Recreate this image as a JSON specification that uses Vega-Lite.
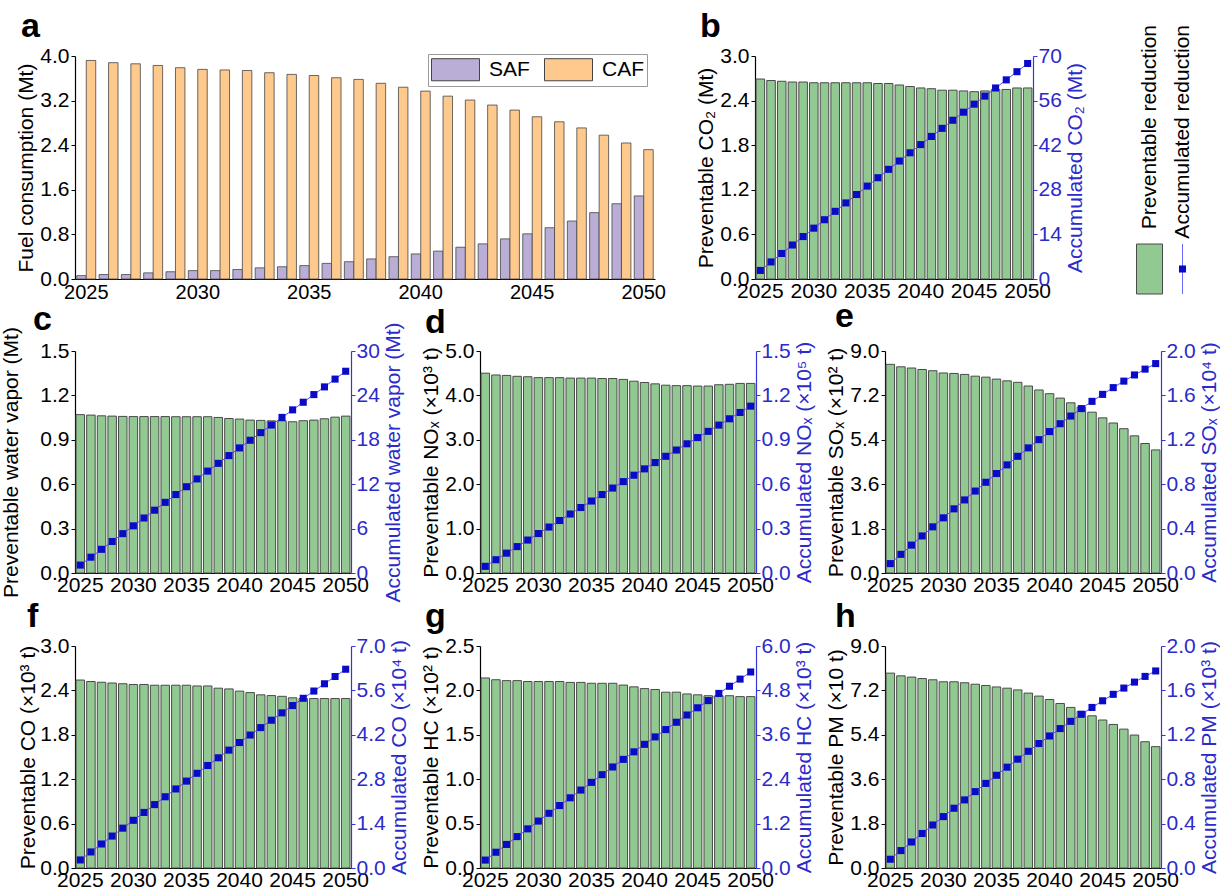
{
"$schema": "https://vega.github.io/schema/vega-lite/v6.json",
"padding": {"left": 0, "top": 10, "right": 0, "bottom": 0},
"bounds": "flush",
"spacing": 295,
"config": {
  "font": "Liberation Sans",
  "view": {"stroke": null},
  "axis": {"grid": false, "domainColor": "#000000", "domainWidth": 1.2, "tickColor": "#000000", "labelColor": "#000000", "titleColor": "#000000", "labelFontSize": 21, "titleFontSize": 21, "titleFontWeight": "normal", "tickSize": 4, "labelPadding": 2, "labelOverlap": false},
  "axisBottom": {"ticks": false, "labelPadding": 1, "labelAngle": 0, "labelFlush": false},
  "axisLeft": {"titlePadding": 3},
  "axisRight": {"domainColor": "#3434e0", "tickColor": "#3434e0", "labelColor": "#2b2bcc", "titleColor": "#2b2bcc", "titleAngle": 270, "titleBaseline": "top", "labelPadding": 1, "titlePadding": 3},
  "title": {"fontSize": 34, "fontWeight": "bold", "anchor": "start", "frame": "group", "color": "#000000", "offset": 6}
},
"datasets": {
  "fuel": [
    {"year":2025,"SAF":0.06,"CAF":3.92},{"year":2026,"SAF":0.08,"CAF":3.88},{"year":2027,"SAF":0.08,"CAF":3.86},{"year":2028,"SAF":0.11,"CAF":3.83},{"year":2029,"SAF":0.13,"CAF":3.79},{"year":2030,"SAF":0.15,"CAF":3.76},{"year":2031,"SAF":0.15,"CAF":3.75},{"year":2032,"SAF":0.17,"CAF":3.74},{"year":2033,"SAF":0.20,"CAF":3.70},{"year":2034,"SAF":0.22,"CAF":3.67},{"year":2035,"SAF":0.24,"CAF":3.65},{"year":2036,"SAF":0.28,"CAF":3.61},{"year":2037,"SAF":0.31,"CAF":3.58},{"year":2038,"SAF":0.36,"CAF":3.51},{"year":2039,"SAF":0.40,"CAF":3.44},{"year":2040,"SAF":0.45,"CAF":3.37},{"year":2041,"SAF":0.50,"CAF":3.28},{"year":2042,"SAF":0.57,"CAF":3.21},{"year":2043,"SAF":0.63,"CAF":3.12},{"year":2044,"SAF":0.72,"CAF":3.03},{"year":2045,"SAF":0.81,"CAF":2.91},{"year":2046,"SAF":0.92,"CAF":2.82},{"year":2047,"SAF":1.04,"CAF":2.71},{"year":2048,"SAF":1.19,"CAF":2.58},{"year":2049,"SAF":1.35,"CAF":2.44},{"year":2050,"SAF":1.49,"CAF":2.32}
  ],
  "b": [
    {"year":2025,"p":2.69,"acc":2.69},{"year":2026,"p":2.67,"acc":5.36},{"year":2027,"p":2.66,"acc":8.02},{"year":2028,"p":2.65,"acc":10.67},{"year":2029,"p":2.65,"acc":13.32},{"year":2030,"p":2.64,"acc":15.96},{"year":2031,"p":2.64,"acc":18.60},{"year":2032,"p":2.64,"acc":21.24},{"year":2033,"p":2.64,"acc":23.88},{"year":2034,"p":2.64,"acc":26.52},{"year":2035,"p":2.64,"acc":29.16},{"year":2036,"p":2.63,"acc":31.79},{"year":2037,"p":2.63,"acc":34.42},{"year":2038,"p":2.61,"acc":37.03},{"year":2039,"p":2.59,"acc":39.62},{"year":2040,"p":2.57,"acc":42.19},{"year":2041,"p":2.56,"acc":44.75},{"year":2042,"p":2.54,"acc":47.29},{"year":2043,"p":2.54,"acc":49.83},{"year":2044,"p":2.53,"acc":52.36},{"year":2045,"p":2.52,"acc":54.88},{"year":2046,"p":2.53,"acc":57.41},{"year":2047,"p":2.55,"acc":59.96},{"year":2048,"p":2.55,"acc":62.51},{"year":2049,"p":2.57,"acc":65.08},{"year":2050,"p":2.57,"acc":67.65}
  ],
  "c": [
    {"year":2025,"p":1.070,"acc":1.070},{"year":2026,"p":1.067,"acc":2.137},{"year":2027,"p":1.062,"acc":3.199},{"year":2028,"p":1.060,"acc":4.259},{"year":2029,"p":1.058,"acc":5.317},{"year":2030,"p":1.057,"acc":6.374},{"year":2031,"p":1.057,"acc":7.431},{"year":2032,"p":1.057,"acc":8.488},{"year":2033,"p":1.057,"acc":9.545},{"year":2034,"p":1.056,"acc":10.601},{"year":2035,"p":1.056,"acc":11.657},{"year":2036,"p":1.056,"acc":12.713},{"year":2037,"p":1.056,"acc":13.769},{"year":2038,"p":1.051,"acc":14.820},{"year":2039,"p":1.044,"acc":15.864},{"year":2040,"p":1.040,"acc":16.904},{"year":2041,"p":1.033,"acc":17.937},{"year":2042,"p":1.031,"acc":18.968},{"year":2043,"p":1.028,"acc":19.996},{"year":2044,"p":1.028,"acc":21.024},{"year":2045,"p":1.022,"acc":22.046},{"year":2046,"p":1.029,"acc":23.075},{"year":2047,"p":1.033,"acc":24.108},{"year":2048,"p":1.042,"acc":25.150},{"year":2049,"p":1.053,"acc":26.203},{"year":2050,"p":1.060,"acc":27.263}
  ],
  "d": [
    {"year":2025,"p":4.50,"acc":0.0450},{"year":2026,"p":4.46,"acc":0.0896},{"year":2027,"p":4.45,"acc":0.1341},{"year":2028,"p":4.43,"acc":0.1784},{"year":2029,"p":4.42,"acc":0.2226},{"year":2030,"p":4.40,"acc":0.2666},{"year":2031,"p":4.40,"acc":0.3106},{"year":2032,"p":4.40,"acc":0.3546},{"year":2033,"p":4.39,"acc":0.3985},{"year":2034,"p":4.39,"acc":0.4424},{"year":2035,"p":4.39,"acc":0.4863},{"year":2036,"p":4.38,"acc":0.5301},{"year":2037,"p":4.38,"acc":0.5739},{"year":2038,"p":4.36,"acc":0.6175},{"year":2039,"p":4.32,"acc":0.6607},{"year":2040,"p":4.29,"acc":0.7036},{"year":2041,"p":4.26,"acc":0.7462},{"year":2042,"p":4.23,"acc":0.7885},{"year":2043,"p":4.22,"acc":0.8307},{"year":2044,"p":4.22,"acc":0.8729},{"year":2045,"p":4.21,"acc":0.9150},{"year":2046,"p":4.21,"acc":0.9571},{"year":2047,"p":4.24,"acc":0.9995},{"year":2048,"p":4.25,"acc":1.0420},{"year":2049,"p":4.27,"acc":1.0847},{"year":2050,"p":4.27,"acc":1.1274}
  ],
  "e": [
    {"year":2025,"p":8.46,"acc":0.0846},{"year":2026,"p":8.36,"acc":0.1682},{"year":2027,"p":8.31,"acc":0.2513},{"year":2028,"p":8.25,"acc":0.3338},{"year":2029,"p":8.20,"acc":0.4158},{"year":2030,"p":8.11,"acc":0.4969},{"year":2031,"p":8.09,"acc":0.5778},{"year":2032,"p":8.05,"acc":0.6583},{"year":2033,"p":7.98,"acc":0.7381},{"year":2034,"p":7.94,"acc":0.8175},{"year":2035,"p":7.86,"acc":0.8961},{"year":2036,"p":7.79,"acc":0.9740},{"year":2037,"p":7.73,"acc":1.0513},{"year":2038,"p":7.58,"acc":1.1271},{"year":2039,"p":7.42,"acc":1.2013},{"year":2040,"p":7.27,"acc":1.2740},{"year":2041,"p":7.09,"acc":1.3449},{"year":2042,"p":6.90,"acc":1.4139},{"year":2043,"p":6.73,"acc":1.4812},{"year":2044,"p":6.52,"acc":1.5464},{"year":2045,"p":6.29,"acc":1.6093},{"year":2046,"p":6.08,"acc":1.6701},{"year":2047,"p":5.85,"acc":1.7286},{"year":2048,"p":5.56,"acc":1.7842},{"year":2049,"p":5.25,"acc":1.8367},{"year":2050,"p":4.99,"acc":1.8866}
  ],
  "f": [
    {"year":2025,"p":2.54,"acc":0.254},{"year":2026,"p":2.52,"acc":0.506},{"year":2027,"p":2.51,"acc":0.757},{"year":2028,"p":2.50,"acc":1.007},{"year":2029,"p":2.49,"acc":1.256},{"year":2030,"p":2.48,"acc":1.504},{"year":2031,"p":2.48,"acc":1.752},{"year":2032,"p":2.47,"acc":1.999},{"year":2033,"p":2.47,"acc":2.246},{"year":2034,"p":2.47,"acc":2.493},{"year":2035,"p":2.47,"acc":2.740},{"year":2036,"p":2.46,"acc":2.986},{"year":2037,"p":2.46,"acc":3.232},{"year":2038,"p":2.43,"acc":3.475},{"year":2039,"p":2.42,"acc":3.717},{"year":2040,"p":2.39,"acc":3.956},{"year":2041,"p":2.37,"acc":4.193},{"year":2042,"p":2.34,"acc":4.427},{"year":2043,"p":2.33,"acc":4.660},{"year":2044,"p":2.32,"acc":4.892},{"year":2045,"p":2.30,"acc":5.122},{"year":2046,"p":2.29,"acc":5.351},{"year":2047,"p":2.29,"acc":5.580},{"year":2048,"p":2.29,"acc":5.809},{"year":2049,"p":2.29,"acc":6.038},{"year":2050,"p":2.29,"acc":6.267}
  ],
  "g": [
    {"year":2025,"p":2.14,"acc":0.214},{"year":2026,"p":2.12,"acc":0.426},{"year":2027,"p":2.11,"acc":0.637},{"year":2028,"p":2.11,"acc":0.848},{"year":2029,"p":2.10,"acc":1.058},{"year":2030,"p":2.10,"acc":1.268},{"year":2031,"p":2.10,"acc":1.478},{"year":2032,"p":2.10,"acc":1.688},{"year":2033,"p":2.09,"acc":1.897},{"year":2034,"p":2.09,"acc":2.106},{"year":2035,"p":2.08,"acc":2.314},{"year":2036,"p":2.08,"acc":2.522},{"year":2037,"p":2.08,"acc":2.730},{"year":2038,"p":2.06,"acc":2.936},{"year":2039,"p":2.04,"acc":3.140},{"year":2040,"p":2.02,"acc":3.342},{"year":2041,"p":2.01,"acc":3.543},{"year":2042,"p":1.98,"acc":3.741},{"year":2043,"p":1.98,"acc":3.939},{"year":2044,"p":1.96,"acc":4.135},{"year":2045,"p":1.95,"acc":4.330},{"year":2046,"p":1.94,"acc":4.524},{"year":2047,"p":1.94,"acc":4.718},{"year":2048,"p":1.94,"acc":4.912},{"year":2049,"p":1.93,"acc":5.105},{"year":2050,"p":1.93,"acc":5.298}
  ],
  "h": [
    {"year":2025,"p":7.90,"acc":0.0790},{"year":2026,"p":7.79,"acc":0.1569},{"year":2027,"p":7.74,"acc":0.2343},{"year":2028,"p":7.68,"acc":0.3111},{"year":2029,"p":7.63,"acc":0.3874},{"year":2030,"p":7.55,"acc":0.4629},{"year":2031,"p":7.55,"acc":0.5384},{"year":2032,"p":7.51,"acc":0.6135},{"year":2033,"p":7.45,"acc":0.6880},{"year":2034,"p":7.40,"acc":0.7620},{"year":2035,"p":7.34,"acc":0.8354},{"year":2036,"p":7.29,"acc":0.9083},{"year":2037,"p":7.22,"acc":0.9805},{"year":2038,"p":7.09,"acc":1.0514},{"year":2039,"p":6.97,"acc":1.1211},{"year":2040,"p":6.83,"acc":1.1894},{"year":2041,"p":6.67,"acc":1.2561},{"year":2042,"p":6.51,"acc":1.3212},{"year":2043,"p":6.35,"acc":1.3847},{"year":2044,"p":6.17,"acc":1.4464},{"year":2045,"p":6.00,"acc":1.5064},{"year":2046,"p":5.82,"acc":1.5646},{"year":2047,"p":5.63,"acc":1.6209},{"year":2048,"p":5.39,"acc":1.6748},{"year":2049,"p":5.12,"acc":1.7260},{"year":2050,"p":4.92,"acc":1.7752}
  ]
},
"vconcat": [
  {"bounds": "flush", "spacing": 100, "hconcat": [
    {"width": 580, "height": 223,
     "title": {"text": "a", "dx": -54, "dy": 5},
     "data": {"name": "fuel"},
     "transform": [{"fold": ["SAF", "CAF"], "as": ["fuel", "value"]}],
     "mark": {"type": "bar", "stroke": "#454545", "strokeWidth": 0.8},
     "encoding": {
       "x": {"field": "year", "type": "ordinal", "scale": {"paddingInner": 0.15, "paddingOuter": 0.08}, "axis": {"values": [2025,2030,2035,2040,2045,2050], "title": null, "labelFontSize": 20, "labelPadding": 3}},
       "xOffset": {"field": "fuel", "type": "nominal", "sort": ["SAF", "CAF"], "scale": {"paddingInner": 0, "paddingOuter": 0}},
       "y": {"field": "value", "type": "quantitative", "scale": {"domain": [0, 4], "nice": false}, "axis": {"values": [0, 0.8, 1.6, 2.4, 3.2, 4.0], "format": ".1f", "title": "Fuel consumption (Mt)"}},
       "color": {"field": "fuel", "type": "nominal", "scale": {"domain": ["SAF", "CAF"], "range": ["#bbaed6", "#fec98c"]},
         "legend": {"title": null, "orient": "none", "legendX": 353, "legendY": -2, "direction": "horizontal", "symbolType": "M-2,-0.92H2V0.92H-2Z", "symbolSize": 576, "symbolOffset": 12, "symbolStrokeColor": "#444444", "symbolStrokeWidth": 1, "symbolOpacity": 1, "labelFontSize": 21, "labelOffset": 21, "columnPadding": 12, "padding": 3, "strokeColor": "#9a9a9a", "fillColor": "#ffffff"}}
     }},
    {"width": 278, "height": 223,
     "title": {"text": "b", "dx": -55, "dy": 5},
     "data": {"name": "b"},
     "layer": [
       {"mark": {"type": "bar", "fill": "#92c992", "stroke": "#4a4a4a", "strokeWidth": 1},
        "encoding": {
          "x": {"field": "year", "type": "ordinal", "scale": {"paddingInner": 0.2, "paddingOuter": 0.1}, "axis": {"values": [2025,2030,2035,2040,2045,2050], "title": null}},
          "y": {"field": "p", "type": "quantitative", "scale": {"domain": [0, 3], "nice": false}, "axis": {"values": [0, 0.6, 1.2, 1.8, 2.4, 3.0], "format": ".1f", "title": "Preventable CO₂ (Mt)"}}}},
       {"mark": {"type": "line", "color": "#4c4cff", "strokeWidth": 1, "point": {"shape": "square", "size": 50, "filled": true, "color": "#0a0ac8"}},
        "encoding": {
          "x": {"field": "year", "type": "ordinal"},
          "y": {"field": "acc", "type": "quantitative", "scale": {"domain": [0, 70], "nice": false}, "axis": {"orient": "right", "values": [0, 14, 28, 42, 56, 70], "format": "d", "title": "Accumulated CO₂ (Mt)"}}}}
     ],
     "resolve": {"scale": {"y": "independent"}}},
    {"width": 66, "height": 238,
     "data": {"values": [{"item": "Preventable reduction"}, {"item": "Accumulated reduction"}]},
     "encoding": {"x": {"field": "item", "type": "nominal", "scale": {"domain": ["Preventable reduction", "Accumulated reduction"], "paddingInner": 0, "paddingOuter": 0}, "axis": null}},
     "layer": [
       {"transform": [{"filter": "datum.item === 'Preventable reduction'"}],
        "mark": {"type": "bar", "width": 26, "fill": "#92c992", "stroke": "#4a4a4a", "strokeWidth": 1},
        "encoding": {"y": {"datum": 50, "type": "quantitative", "scale": {"domain": [0, 238], "nice": false, "zero": false}, "axis": null}, "y2": {"datum": 0}}},
       {"transform": [{"filter": "datum.item === 'Accumulated reduction'"}],
        "mark": {"type": "rule", "color": "#6a6aff", "strokeWidth": 1},
        "encoding": {"y": {"datum": 50, "type": "quantitative"}, "y2": {"datum": 0}}},
       {"transform": [{"filter": "datum.item === 'Accumulated reduction'"}],
        "mark": {"type": "point", "shape": "square", "filled": true, "size": 50, "color": "#0a0ac8", "opacity": 1},
        "encoding": {"y": {"datum": 25, "type": "quantitative"}}},
       {"mark": {"type": "text", "angle": 270, "align": "right", "baseline": "middle", "fontSize": 21, "color": "#000000"},
        "encoding": {"text": {"field": "item"}, "y": {"datum": 269, "type": "quantitative"}}}
     ]}
  ]},
  {"bounds": "flush", "spacing": 129, "hconcat": [
    {"width": 276, "height": 222,
     "title": {"text": "c", "dx": -42, "dy": 21},
     "data": {"name": "c"},
     "layer": [
       {"mark": {"type": "bar", "fill": "#92c992", "stroke": "#4a4a4a", "strokeWidth": 1},
        "encoding": {
          "x": {"field": "year", "type": "ordinal", "scale": {"paddingInner": 0.2, "paddingOuter": 0.1}, "axis": {"values": [2025,2030,2035,2040,2045,2050], "title": null}},
          "y": {"field": "p", "type": "quantitative", "scale": {"domain": [0, 1.5], "nice": false}, "axis": {"values": [0, 0.3, 0.6, 0.9, 1.2, 1.5], "format": ".1f", "title": "Preventable water vapor (Mt)", "titlePadding": 18}}}},
       {"mark": {"type": "line", "color": "#4c4cff", "strokeWidth": 1, "point": {"shape": "square", "size": 50, "filled": true, "color": "#0a0ac8"}},
        "encoding": {
          "x": {"field": "year", "type": "ordinal"},
          "y": {"field": "acc", "type": "quantitative", "scale": {"domain": [0, 30], "nice": false}, "axis": {"orient": "right", "values": [0, 6, 12, 18, 24, 30], "format": "d", "title": "Accumulated water vapor (Mt)"}}}}
     ],
     "resolve": {"scale": {"y": "independent"}}},
    {"width": 276, "height": 222,
     "title": {"text": "d", "dx": -55, "dy": 6},
     "data": {"name": "d"},
     "layer": [
       {"mark": {"type": "bar", "fill": "#92c992", "stroke": "#4a4a4a", "strokeWidth": 1},
        "encoding": {
          "x": {"field": "year", "type": "ordinal", "scale": {"paddingInner": 0.2, "paddingOuter": 0.1}, "axis": {"values": [2025,2030,2035,2040,2045,2050], "title": null}},
          "y": {"field": "p", "type": "quantitative", "scale": {"domain": [0, 5], "nice": false}, "axis": {"values": [0, 1, 2, 3, 4, 5], "format": ".1f", "title": "Preventable NOₓ (×10³ t)"}}}},
       {"mark": {"type": "line", "color": "#4c4cff", "strokeWidth": 1, "point": {"shape": "square", "size": 50, "filled": true, "color": "#0a0ac8"}},
        "encoding": {
          "x": {"field": "year", "type": "ordinal"},
          "y": {"field": "acc", "type": "quantitative", "scale": {"domain": [0, 1.5], "nice": false}, "axis": {"orient": "right", "values": [0, 0.3, 0.6, 0.9, 1.2, 1.5], "format": ".1f", "title": "Accumulated NOₓ (×10⁵ t)"}}}}
     ],
     "resolve": {"scale": {"y": "independent"}}},
    {"width": 276, "height": 222,
     "title": {"text": "e", "dx": -50, "dy": 0},
     "data": {"name": "e"},
     "layer": [
       {"mark": {"type": "bar", "fill": "#92c992", "stroke": "#4a4a4a", "strokeWidth": 1},
        "encoding": {
          "x": {"field": "year", "type": "ordinal", "scale": {"paddingInner": 0.2, "paddingOuter": 0.1}, "axis": {"values": [2025,2030,2035,2040,2045,2050], "title": null}},
          "y": {"field": "p", "type": "quantitative", "scale": {"domain": [0, 9], "nice": false}, "axis": {"values": [0, 1.8, 3.6, 5.4, 7.2, 9.0], "format": ".1f", "title": "Preventable SOₓ (×10² t)"}}}},
       {"mark": {"type": "line", "color": "#4c4cff", "strokeWidth": 1, "point": {"shape": "square", "size": 50, "filled": true, "color": "#0a0ac8"}},
        "encoding": {
          "x": {"field": "year", "type": "ordinal"},
          "y": {"field": "acc", "type": "quantitative", "scale": {"domain": [0, 2], "nice": false}, "axis": {"orient": "right", "values": [0, 0.4, 0.8, 1.2, 1.6, 2.0], "format": ".1f", "title": "Accumulated SOₓ (×10⁴ t)"}}}}
     ],
     "resolve": {"scale": {"y": "independent"}}}
  ]},
  {"bounds": "flush", "spacing": 129, "hconcat": [
    {"width": 276, "height": 222,
     "title": {"text": "f", "dx": -48, "dy": 5},
     "data": {"name": "f"},
     "layer": [
       {"mark": {"type": "bar", "fill": "#92c992", "stroke": "#4a4a4a", "strokeWidth": 1},
        "encoding": {
          "x": {"field": "year", "type": "ordinal", "scale": {"paddingInner": 0.2, "paddingOuter": 0.1}, "axis": {"values": [2025,2030,2035,2040,2045,2050], "title": null}},
          "y": {"field": "p", "type": "quantitative", "scale": {"domain": [0, 3], "nice": false}, "axis": {"values": [0, 0.6, 1.2, 1.8, 2.4, 3.0], "format": ".1f", "title": "Preventable CO (×10³ t)", "titlePadding": 1}}}},
       {"mark": {"type": "line", "color": "#4c4cff", "strokeWidth": 1, "point": {"shape": "square", "size": 50, "filled": true, "color": "#0a0ac8"}},
        "encoding": {
          "x": {"field": "year", "type": "ordinal"},
          "y": {"field": "acc", "type": "quantitative", "scale": {"domain": [0, 7], "nice": false}, "axis": {"orient": "right", "values": [0, 1.4, 2.8, 4.2, 5.6, 7.0], "format": ".1f", "title": "Accumulated CO (×10⁴ t)"}}}}
     ],
     "resolve": {"scale": {"y": "independent"}}},
    {"width": 276, "height": 222,
     "title": {"text": "g", "dx": -55, "dy": 5},
     "data": {"name": "g"},
     "layer": [
       {"mark": {"type": "bar", "fill": "#92c992", "stroke": "#4a4a4a", "strokeWidth": 1},
        "encoding": {
          "x": {"field": "year", "type": "ordinal", "scale": {"paddingInner": 0.2, "paddingOuter": 0.1}, "axis": {"values": [2025,2030,2035,2040,2045,2050], "title": null}},
          "y": {"field": "p", "type": "quantitative", "scale": {"domain": [0, 2.5], "nice": false}, "axis": {"values": [0, 0.5, 1.0, 1.5, 2.0, 2.5], "format": ".1f", "title": "Preventable HC (×10² t)"}}}},
       {"mark": {"type": "line", "color": "#4c4cff", "strokeWidth": 1, "point": {"shape": "square", "size": 50, "filled": true, "color": "#0a0ac8"}},
        "encoding": {
          "x": {"field": "year", "type": "ordinal"},
          "y": {"field": "acc", "type": "quantitative", "scale": {"domain": [0, 6], "nice": false}, "axis": {"orient": "right", "values": [0, 1.2, 2.4, 3.6, 4.8, 6.0], "format": ".1f", "title": "Accumulated HC (×10³ t)"}}}}
     ],
     "resolve": {"scale": {"y": "independent"}}},
    {"width": 276, "height": 222,
     "title": {"text": "h", "dx": -50, "dy": 5},
     "data": {"name": "h"},
     "layer": [
       {"mark": {"type": "bar", "fill": "#92c992", "stroke": "#4a4a4a", "strokeWidth": 1},
        "encoding": {
          "x": {"field": "year", "type": "ordinal", "scale": {"paddingInner": 0.2, "paddingOuter": 0.1}, "axis": {"values": [2025,2030,2035,2040,2045,2050], "title": null}},
          "y": {"field": "p", "type": "quantitative", "scale": {"domain": [0, 9], "nice": false}, "axis": {"values": [0, 1.8, 3.6, 5.4, 7.2, 9.0], "format": ".1f", "title": "Preventable PM (×10 t)"}}}},
       {"mark": {"type": "line", "color": "#4c4cff", "strokeWidth": 1, "point": {"shape": "square", "size": 50, "filled": true, "color": "#0a0ac8"}},
        "encoding": {
          "x": {"field": "year", "type": "ordinal"},
          "y": {"field": "acc", "type": "quantitative", "scale": {"domain": [0, 2], "nice": false}, "axis": {"orient": "right", "values": [0, 0.4, 0.8, 1.2, 1.6, 2.0], "format": ".1f", "title": "Accumulated PM (×10³ t)"}}}}
     ],
     "resolve": {"scale": {"y": "independent"}}}
  ]}
]
}
